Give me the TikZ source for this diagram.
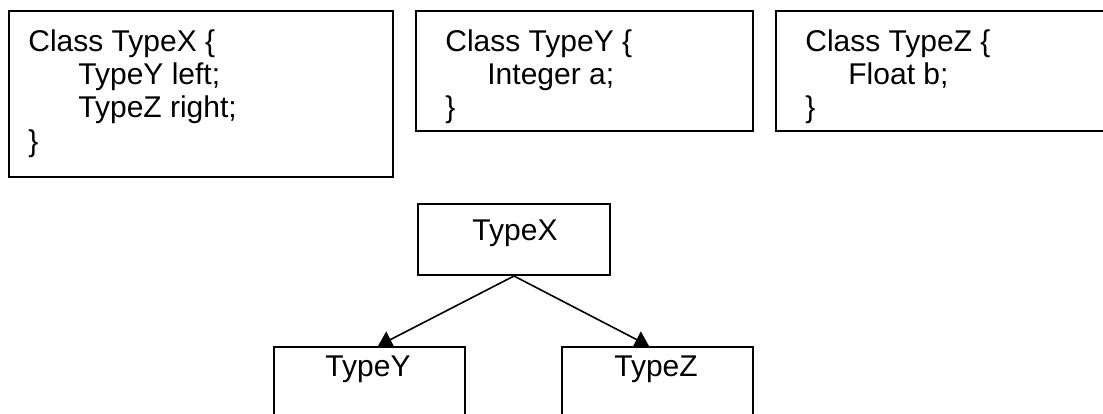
\documentclass[tikz,border=0pt]{standalone}
\usepackage{fontspec}
\setmainfont{Liberation Sans}
\usetikzlibrary{arrows.meta,calc}
\begin{document}
\begin{tikzpicture}[x=0.5pt,y=-0.5pt,
  box/.style={draw,line width=1pt,fill=white,inner sep=0pt,anchor=north west},
  txt/.style={anchor=base west,inner sep=0pt,font=\fontsize{15pt}{16.5pt}\selectfont},
  lbl/.style={anchor=base,inner sep=0pt,font=\fontsize{15pt}{16.5pt}\selectfont},
  conn/.style={line width=0.8pt,-{Triangle[length=7pt,width=9pt]}}]
\useasboundingbox (0,0) rectangle (1103,413);
\clip (0,0) rectangle (1103,413);
% class definition boxes
\node[box,minimum width=192pt,minimum height=83pt] (bx) at (8,10) {};
\node[box,minimum width=168.5pt,minimum height=60pt] (by) at (415,10) {};
\node[box,minimum width=180pt,minimum height=60pt] (bz) at (775,10) {};
\node[txt] (x1) at (28,51) {Class TypeX \{};
\node[txt] (x2) at (78,84) {TypeY left;};
\node[txt] (x3) at (78,117) {TypeZ right;};
\node[txt] (x4) at (28,151) {\}};
\node[txt] (y1) at (445,51) {Class TypeY \{};
\node[txt] (y2) at (487,84) {Integer a;};
\node[txt] (y3) at (445,117) {\}};
\node[txt] (z1) at (805,51) {Class TypeZ \{};
\node[txt] (z2) at (848,84) {Float b;};
\node[txt] (z3) at (805,117) {\}};
% tree
\node[box,minimum width=96pt,minimum height=35.5pt] (tx) at (417,203) {};
\node[box,minimum width=95.5pt,minimum height=60pt] (ty) at (273,346) {};
\node[box,minimum width=95.5pt,minimum height=60pt] (tz) at (561,346) {};
\node[lbl] (txl) at (515,240) {TypeX};
\node[lbl] (tyl) at (368,376) {TypeY};
\node[lbl] (tzl) at (656,376) {TypeZ};
\coordinate (ey) at ($(ty.north west)+(105,0)$);
\coordinate (ez) at ($(tz.north west)+(88,0)$);
\draw[conn] (tx.south) -- (ey);
\draw[conn] (tx.south) -- (ez);
\end{tikzpicture}
\end{document}
